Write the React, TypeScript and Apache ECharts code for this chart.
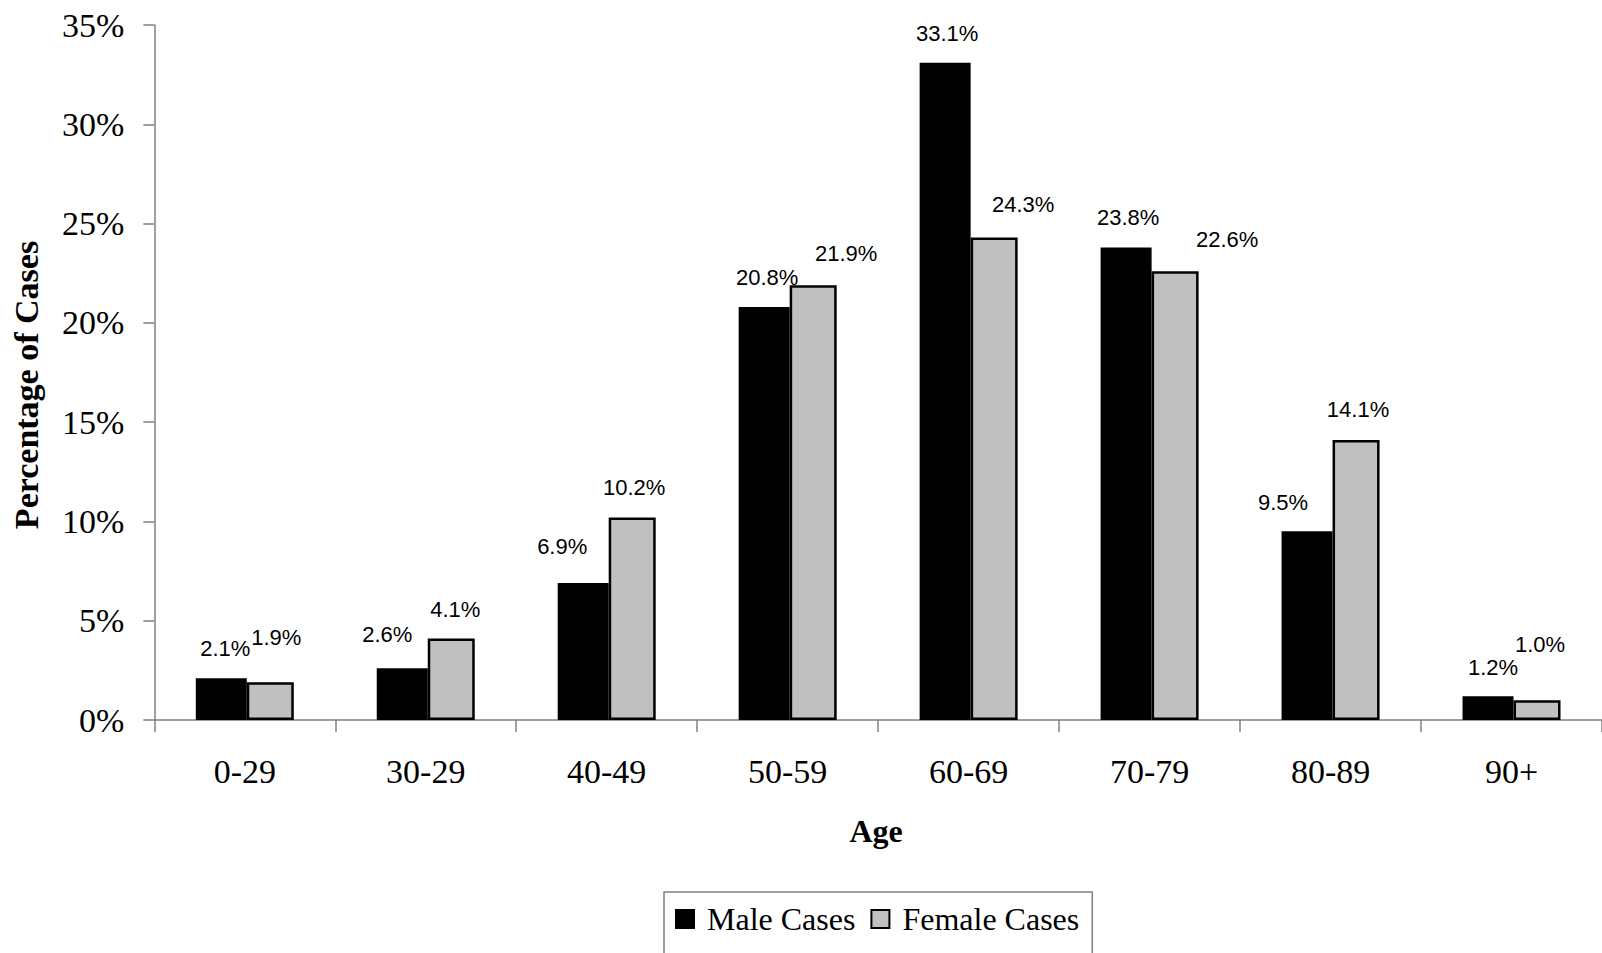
import React, { useEffect, useRef } from "react";
import * as echarts from "echarts";

const categories = ["0-29", "30-29", "40-49", "50-59", "60-69", "70-79", "80-89", "90+"];
const maleCases = [2.1, 2.6, 6.9, 20.8, 33.1, 23.8, 9.5, 1.2];
const femaleCases = [1.9, 4.1, 10.2, 21.9, 24.3, 22.6, 14.1, 1.0];
const yTicks = { min: 0, max: 35, interval: 5 };

// label nudges [dx, dy-up] reproducing the original label placement
const maleLabelShift = [[4, 1], [-15, 5], [-21, 7], [3, 0], [2, 0], [2, 1], [-24, 0], [5, 0]];
const femaleLabelShift = [[6, 16], [4, 0], [2, 1], [33, 3], [29, 4], [52, 3], [2, 2], [3, 27]];

const SERIF = "'Liberation Serif', 'Times New Roman', serif";
const SANS = "'Liberation Sans', Arial, sans-serif";
const AXIS_GRAY = "#808080";

export default function App() {
  const ref = useRef<HTMLDivElement>(null);

  useEffect(() => {
    if (!ref.current) return;
    const chart = echarts.init(ref.current, null, { renderer: "svg" });

    const labelBase = {
      show: true,
      position: "top",
      distance: 18,
      color: "#000",
      fontFamily: SANS,
      fontSize: 22,
      formatter: (p: any) => `${Number(p.value).toFixed(1)}%`,
    };

    const mkData = (vals: number[], shifts: number[][]) =>
      vals.map((v, i) => ({
        value: v,
        label: { offset: [shifts[i][0], -shifts[i][1]] },
      }));

    chart.setOption({
      animation: false,
      backgroundColor: "#ffffff",
      grid: { left: 154.3, top: 25, width: 1453, height: 695, containLabel: false },
      legend: {
        left: 664,
        top: 892,
        orient: "horizontal",
        itemWidth: 18,
        itemHeight: 18,
        itemGap: 15,
        padding: [11, 13, 25, 11],
        borderColor: AXIS_GRAY,
        borderWidth: 1.5,
        icon: "rect",
        textStyle: {
          fontFamily: SERIF,
          fontSize: 32,
          color: "#000",
          padding: [0, 0, 0, 8],
        },
        data: ["Male Cases", "Female Cases"],
      },
      xAxis: {
        type: "category",
        data: categories,
        boundaryGap: true,
        name: "Age",
        nameLocation: "middle",
        nameGap: 95,
        nameTextStyle: {
          fontFamily: SERIF,
          fontSize: 32,
          fontWeight: "bold",
          color: "#000",
          padding: [0, 4, 0, 0],
        },
        axisLine: { lineStyle: { color: AXIS_GRAY, width: 1.5 } },
        axisTick: { show: true, length: 12, lineStyle: { color: AXIS_GRAY, width: 1.5 } },
        axisLabel: {
          fontFamily: SERIF,
          fontSize: 34,
          color: "#000",
          margin: 34,
        },
        splitLine: { show: false },
      },
      yAxis: {
        type: "value",
        min: yTicks.min,
        max: yTicks.max,
        interval: yTicks.interval,
        name: "Percentage of Cases",
        nameLocation: "middle",
        nameGap: 111,
        nameTextStyle: {
          fontFamily: SERIF,
          fontSize: 34,
          fontWeight: "bold",
          color: "#000",
          padding: [0, 25, 0, 0],
        },
        axisLine: { show: true, lineStyle: { color: AXIS_GRAY, width: 1.5 } },
        axisTick: { show: true, length: 11, lineStyle: { color: AXIS_GRAY, width: 1.5 } },
        axisLabel: {
          fontFamily: SERIF,
          fontSize: 34,
          color: "#000",
          margin: 30,
          padding: [0, 0, 6, 0],
          formatter: "{value}%",
        },
        splitLine: { show: false },
      },
      series: [
        {
          name: "Male Cases",
          type: "bar",
          barWidth: 51,
          barGap: "0%",
          itemStyle: { color: "#000000", borderColor: "#000000", borderWidth: 2.5 },
          label: labelBase,
          data: mkData(maleCases, maleLabelShift),
        },
        {
          name: "Female Cases",
          type: "bar",
          barWidth: 47,
          barGap: "0%",
          itemStyle: { color: "#c0c0c0", borderColor: "#000000", borderWidth: 2.5 },
          label: labelBase,
          data: mkData(femaleCases, femaleLabelShift),
        },
      ],
    });

    return () => chart.dispose();
  }, []);

  return (
    <div
      ref={ref}
      style={{
        position: "absolute",
        left: 0,
        top: 0,
        width: 1602,
        height: 953,
        background: "#ffffff",
        overflow: "hidden",
      }}
    />
  );
}
